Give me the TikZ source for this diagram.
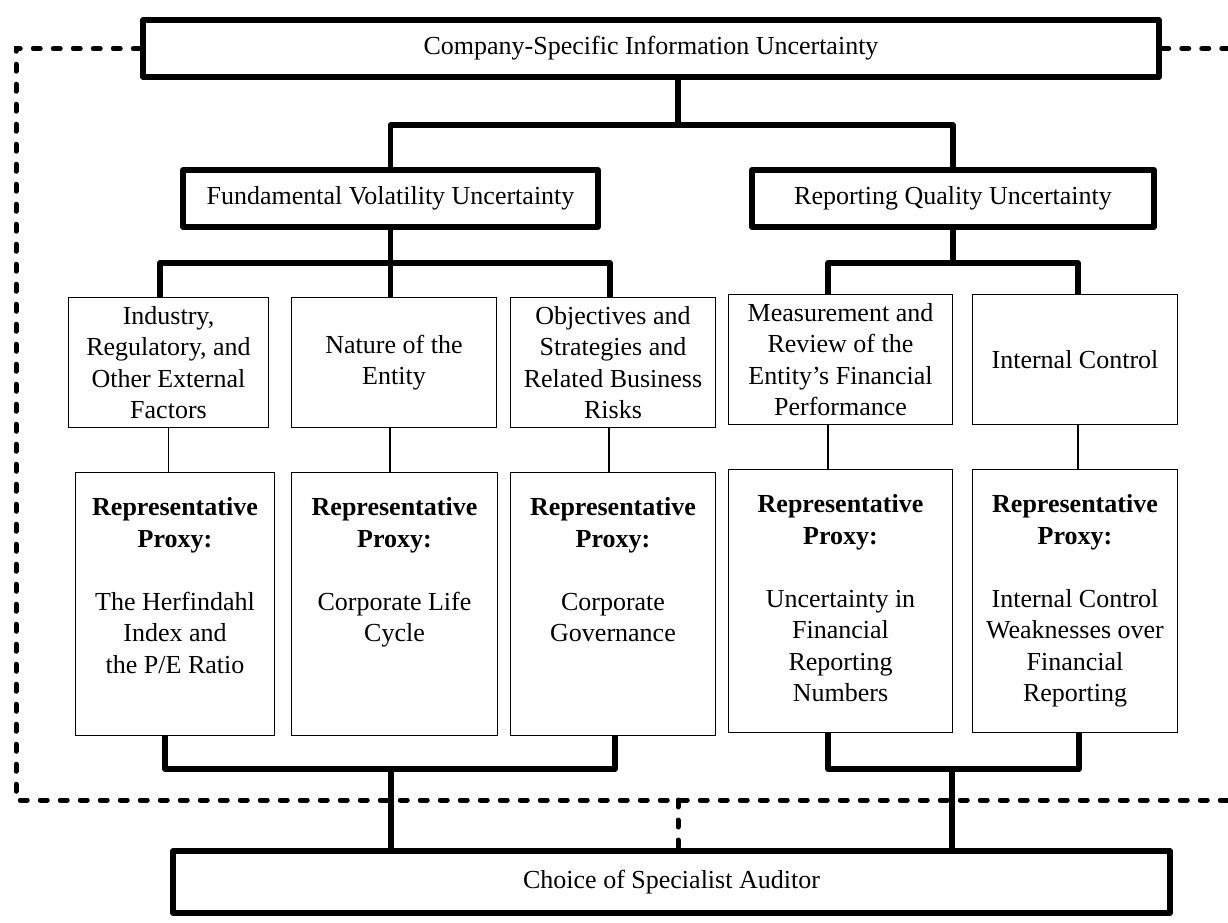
\documentclass[tikz,border=0pt]{standalone}
\usepackage{fontspec}
\setmainfont{Liberation Serif}
\begin{document}
\begin{tikzpicture}[x=1pt,y=-1pt,
  every node/.style={font=\fontsize{26pt}{31.5pt}\selectfont, align=center, inner sep=0pt},
  bigbox/.style={draw, line width=5.5pt, line join=round},
  midbox/.style={draw, line width=1.5pt},
  conn/.style={line width=5.5pt, line join=round},
  thinconn/.style={line width=1.5pt},
  dashconn/.style={line width=5pt, line cap=round, dash pattern=on 7pt off 13pt}]
\useasboundingbox (0,0) rectangle (1228,923);
% top levels
\node[bigbox, minimum width=1016pt, minimum height=57pt] (top) at (651,48.5) {Company-Specific Information Uncertainty};
\node[bigbox, minimum width=415pt, minimum height=57pt] (fund) at (390.5,198.5) {Fundamental Volatility Uncertainty};
\node[bigbox, minimum width=402pt, minimum height=57pt] (rep) at (953,198.5) {Reporting Quality Uncertainty};
% middle boxes
\node[midbox, minimum width=200pt, minimum height=130pt] (i1) at (168.5,362.5) {Industry,\\Regulatory, and\\Other External\\Factors};
\node[midbox, minimum width=205pt, minimum height=130pt] (i2) at (394,362.5) {Nature of the\\Entity};
\node[midbox, minimum width=205pt, minimum height=130pt] (i3) at (613,362.5) {Objectives and\\Strategies and\\Related Business\\Risks};
\node[midbox, minimum width=224pt, minimum height=130pt] (i4) at (840.5,359.5) {Measurement and\\Review of the\\Entity’s Financial\\Performance};
\node[midbox, minimum width=205pt, minimum height=130pt] (i5) at (1075,359.5) {Internal Control};
% proxy boxes
\node[midbox, minimum width=199pt, minimum height=263pt] (p1) at (175,604) {};
\node[midbox, minimum width=206pt, minimum height=263pt] (p2) at (394.5,604) {};
\node[midbox, minimum width=205pt, minimum height=263pt] (p3) at (613,604) {};
\node[midbox, minimum width=224pt, minimum height=263pt] (p4) at (840.5,601) {};
\node[midbox, minimum width=205pt, minimum height=263pt] (p5) at (1075,601) {};
\node[anchor=north] (t1) at ([yshift=-26pt]p1.north) {\textbf{Representative}\\\textbf{Proxy:}\\[31.5pt]The Herfindahl\\Index and\\the P/E Ratio};
\node[anchor=north] (t2) at ([yshift=-26pt]p2.north) {\textbf{Representative}\\\textbf{Proxy:}\\[31.5pt]Corporate Life\\Cycle};
\node[anchor=north] (t3) at ([yshift=-26pt]p3.north) {\textbf{Representative}\\\textbf{Proxy:}\\[31.5pt]Corporate\\Governance};
\node[anchor=north] (t4) at ([yshift=-26pt]p4.north) {\textbf{Representative}\\\textbf{Proxy:}\\[31.5pt]Uncertainty in\\Financial\\Reporting\\Numbers};
\node[anchor=north] (t5) at ([yshift=-26pt]p5.north) {\textbf{Representative}\\\textbf{Proxy:}\\[31.5pt]Internal Control\\Weaknesses over\\Financial\\Reporting};
% bottom
\node[bigbox, minimum width=997pt, minimum height=62pt] (bot) at (671.5,882) {Choice of Specialist Auditor};
% junction coordinates
\coordinate (T) at (678,125);
\coordinate (F1) at (160,263);
\coordinate (F3) at (610,263);
\coordinate (G1) at (828,263);
\coordinate (G2) at (1078,263);
\coordinate (L1) at (165,769);
\coordinate (L2) at (615,769);
\coordinate (LJ) at (391,769);
\coordinate (R1) at (828,769);
\coordinate (R2) at (1079,769);
\coordinate (RJ) at (952,769);
\coordinate (cl) at (16,800);
\coordinate (cr) at (1228,800);
% dashed feedback
\draw[dashconn] (top.west) -- (top.west -| cl) -- (cl) -- (cr);
\draw[dashconn] (top.east) -- (top.east -| cr);
\draw[dashconn] (T |- cl) -- (bot.north -| T);
% level 1-2
\draw[conn] (top.south -| T) -- (T);
\draw[conn] (fund.north) -- (fund.north |- T) -- (rep.north |- T) -- (rep.north);
% level 2-3
\draw[conn] (i1.north -| F1) -- (F1) -- (F3) -- (i3.north -| F3);
\draw[conn] (fund.south) -- (i2.north -| fund.south);
\draw[conn] (i4.north -| G1) -- (G1) -- (G2) -- (i5.north -| G2);
\draw[conn] (rep.south) -- (rep.south |- G1);
% thin links
\draw[thinconn] (i1.south) -- (i1.south |- p1.north);
\draw[thinconn] ([xshift=-4pt]i2.south) -- ([xshift=-4pt]i2.south |- p2.north);
\draw[thinconn] ([xshift=-4pt]i3.south) -- ([xshift=-4pt]i3.south |- p3.north);
\draw[thinconn] ([xshift=-12.5pt]i4.south) -- ([xshift=-12.5pt]i4.south |- p4.north);
\draw[thinconn] ([xshift=3pt]i5.south) -- ([xshift=3pt]i5.south |- p5.north);
% bottom brackets
\draw[conn] (p1.south -| L1) -- (L1) -- (L2) -- (p3.south -| L2);
\draw[conn] (LJ) -- (bot.north -| LJ);
\draw[conn] (p4.south -| R1) -- (R1) -- (R2) -- (p5.south -| R2);
\draw[conn] (RJ) -- (bot.north -| RJ);
\end{tikzpicture}
\end{document}
